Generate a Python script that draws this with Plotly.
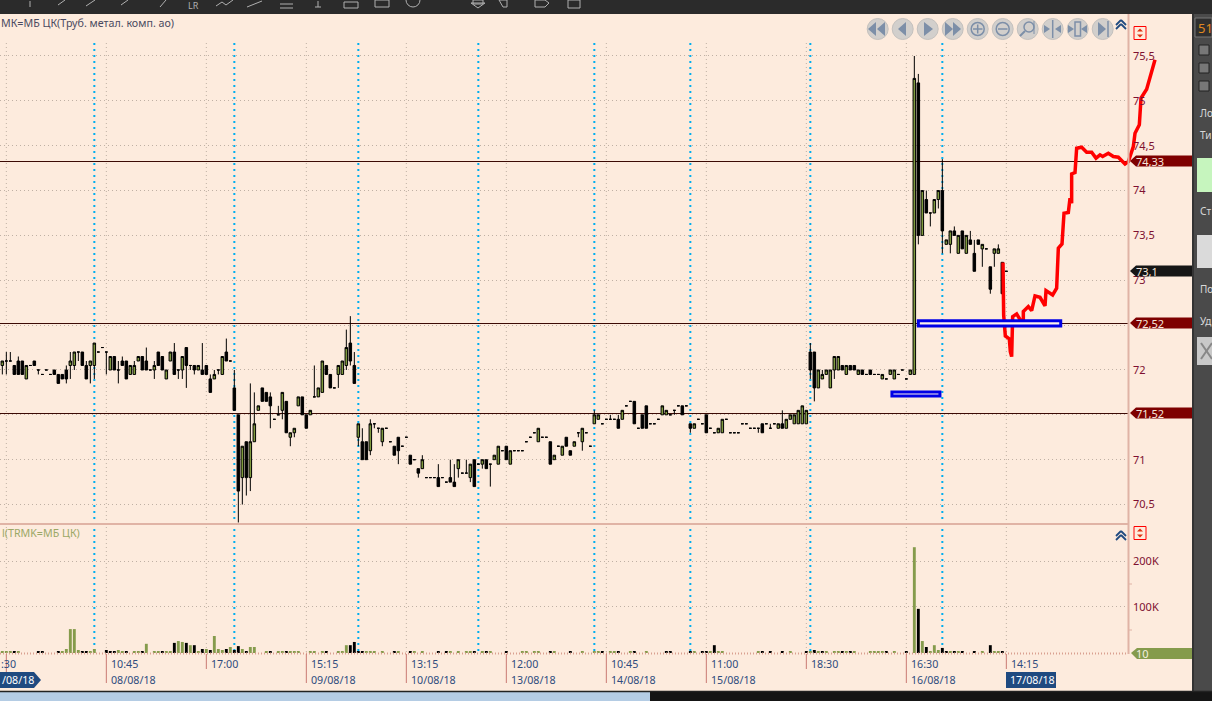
import plotly.graph_objects as go

# ---------- candle data (index = candle number) ----------
opens = [
72.05,72.10,72.10,72.05,72.10,72.10,71.90,72.05,72.10,72.00,71.95,72.00,71.95,72.00,71.95,71.95,72.00,72.05,72.05,72.20,
72.20,72.05,72.05,72.05,72.20,72.25,72.20,72.00,72.15,72.00,72.10,72.10,71.95,71.95,72.10,72.15,72.10,72.00,72.00,72.20,
72.15,71.90,72.10,72.20,72.00,72.00,72.25,72.05,72.05,72.00,72.00,72.05,71.90,71.90,72.00,71.95,72.20,72.10,71.80,71.50,
70.80,71.20,70.80,71.20,71.55,71.80,71.75,71.70,71.45,71.50,71.55,71.65,71.25,71.30,71.60,71.70,71.50,71.50,71.70,71.70,
71.75,72.05,71.95,71.80,71.95,71.95,72.05,72.30,72.05,71.25,71.20,71.20,71.10,71.40,71.35,71.20,71.35,71.20,71.15,71.25,
71.15,71.25,71.05,71.00,70.90,70.90,70.80,70.80,70.80,70.80,70.80,70.75,70.80,70.75,70.90,70.85,70.85,70.80,71.00,70.95,
70.95,71.00,70.95,71.00,70.95,71.10,71.15,70.95,71.10,71.10,71.10,71.20,71.25,71.30,71.20,71.25,71.25,71.20,71.00,71.15,
71.05,71.25,71.10,71.15,71.30,71.20,71.30,71.15,71.40,71.45,71.40,71.45,71.45,71.45,71.45,71.45,71.60,71.65,71.65,71.35,
71.50,71.60,71.40,71.40,71.45,71.50,71.50,71.50,71.55,71.60,71.60,71.60,71.40,71.35,71.45,71.40,71.50,71.35,71.30,71.30,
71.30,71.45,71.30,71.30,71.30,71.40,71.40,71.35,71.35,71.35,71.40,71.40,71.35,71.40,71.35,71.40,71.35,71.45,71.40,71.40,
71.40,71.40,72.20,72.20,71.80,71.90,71.95,71.80,72.00,72.00,72.05,71.95,72.05,72.05,71.95,72.00,71.95,72.00,71.95,71.95,
71.90,71.90,71.95,71.90,71.95,72.00,71.90,71.95,71.95,75.20,73.50,73.90,73.75,73.75,73.90,74.00,73.40,73.40,73.55,73.30,
73.55,73.30,73.45,73.30,73.45,73.35,73.35,73.15,73.30,73.30,73.20,73.10]
closes = [
72.10,72.10,72.10,71.95,71.95,71.95,72.05,72.05,72.05,72.00,71.95,72.00,71.95,71.95,71.85,71.90,71.90,72.10,72.20,72.20,
72.05,71.90,72.10,72.30,72.20,72.25,72.20,72.15,72.00,72.00,72.05,71.90,72.05,72.05,72.15,72.00,72.00,72.00,72.05,72.05,
72.00,72.00,72.20,71.95,72.00,72.15,72.05,72.05,72.00,72.05,71.95,71.95,71.75,71.95,72.00,72.15,72.10,72.10,71.55,70.65,
71.15,70.80,71.20,71.40,71.60,71.65,71.65,71.60,71.45,71.50,71.75,71.30,71.30,71.35,71.70,71.50,71.35,71.55,71.70,71.80,
72.10,71.95,71.80,71.80,72.05,72.10,72.25,72.10,71.85,71.40,71.00,71.00,71.40,71.40,71.35,71.35,71.35,71.20,71.05,71.10,
71.15,71.25,70.95,71.00,70.85,71.00,70.80,70.80,70.80,70.70,70.80,70.75,70.75,70.70,71.00,70.85,70.85,70.95,70.70,70.95,
71.00,70.90,70.95,71.05,71.15,71.10,71.00,71.10,71.10,71.10,71.10,71.20,71.25,71.30,71.35,71.25,71.25,70.95,71.05,71.15,
71.15,71.15,71.05,71.20,71.30,71.35,71.30,71.15,71.50,71.50,71.40,71.45,71.45,71.45,71.35,71.55,71.60,71.65,71.40,71.35,
71.35,71.35,71.40,71.40,71.45,71.60,71.55,71.50,71.55,71.60,71.50,71.60,71.35,71.40,71.45,71.40,71.30,71.35,71.30,71.35,
71.45,71.45,71.30,71.30,71.30,71.40,71.40,71.35,71.35,71.35,71.30,71.40,71.35,71.40,71.40,71.35,71.45,71.50,71.50,71.55,
71.60,71.55,72.00,71.80,72.00,71.95,72.00,72.00,72.15,72.15,72.00,72.05,72.00,72.00,72.00,71.95,71.95,71.95,71.95,71.95,
71.95,71.90,72.00,72.00,71.95,72.00,71.90,72.00,75.25,73.50,74.00,73.75,73.75,73.90,74.00,73.55,73.45,73.55,73.50,73.50,
73.35,73.50,73.40,73.10,73.40,73.40,73.35,72.90,73.35,73.35,72.85,73.10]
upper_wicks = {1:72.20,2:72.20,4:72.15,16:72.05,17:72.20,21:72.10,29:72.10,30:72.15,33:72.10,36:72.25,38:72.10,43:72.30,
50:72.30,52:71.95,53:72.00,56:72.35,58:72.00,62:71.85,63:71.75,67:71.75,69:71.60,78:72.05,86:72.45,87:72.60,88:72.20,
90:71.35,92:71.45,105:71.05,109:70.95,112:71.00,113:70.95,116:71.00,148:71.55,152:71.50,154:71.50,192:71.40,195:71.55,
202:72.30,205:72.00,228:75.50,229:75.30,231:74.00,235:74.35,238:73.60,242:73.55,243:73.45,249:73.40}
lower_wicks = {0:71.95,1:71.95,9:71.95,16:71.85,17:71.90,18:72.00,19:72.10,22:71.85,23:71.90,26:71.95,29:71.85,38:71.90,
44:71.90,45:71.90,46:71.80,47:72.00,48:71.95,54:71.95,59:70.30,60:70.50,61:70.60,62:70.65,67:71.35,70:71.45,72:71.15,
73:71.25,84:71.80,86:72.00,87:72.05,89:71.15,92:71.05,93:71.35,94:71.30,95:71.15,99:70.95,104:70.80,114:70.80,117:70.75,
120:70.90,122:70.70,144:71.25,145:71.10,168:71.50,172:71.30,189:71.30,202:71.90,203:71.65,208:71.90,229:73.40,232:73.60,
234:73.80,235:73.30,237:73.30,245:73.15,247:72.85,248:73.15}

# ---------- volume ----------
vol_up_index = [0,1,2,4,15,16,17,18,19,22,23,29,30,33,34,36,38,39,41,42,44,45,47,49,51,53,54,55,57,60,62,63,
66,69,70,72,73,74,77,78,80,84,85,86,91,92,93,95,99,103,105,112,114,116,117,120,122,
130,131,133,134,138,145,148,149,152,153,157,161,173,177,179,180,189,
197,202,204,206,208,209,211,213,217,218,219,220,223,228,230,232,233,234,237,239,245,248,249]
vol_up_value = [2200,2200,2200,2200,2200,8700,52000,52000,6500,2200,8700,6500,4300,2200,2200,20000,4300,2200,2200,4300,26000,24000,17000,2200,8700,37000,8700,6500,13000,8700,13000,13000,
2200,2200,2200,2200,2200,2200,2200,4300,2200,4300,2200,17000,4300,2200,2200,2200,2200,2200,2200,2200,2200,2200,2200,2200,2200,
2200,2200,2200,2200,2200,2200,2200,2200,2200,2200,2200,2200,2200,2200,2200,2200,2200,
2200,4300,2200,2200,4300,2200,2200,2200,2200,2200,2200,2200,2200,230000,26000,4300,17000,6500,2200,2200,2200,2200,2200]
vol_down_index = [3,9,10,14,20,21,26,27,28,31,35,40,43,46,48,50,52,56,58,59,61,
67,71,81,87,88,89,90,98,102,109,111,118,121,126,
137,142,150,154,158,166,167,172,175,176,178,190,192,
195,201,203,205,210,212,221,226,229,231,235,236,238,240,243,247,250]
vol_down_value = [2200,2200,2200,2200,2200,2200,6500,2200,4300,4300,4300,2200,22000,22000,17000,8700,6500,8700,6500,15000,4300,
4300,4300,4300,17000,24000,4300,4300,2200,2200,2200,2200,2200,2200,2200,
2200,2200,2200,2200,2200,2200,2200,2200,2200,2200,17000,2200,2200,
2200,2200,6500,2200,2200,2200,2200,2200,96000,13000,11000,2200,2200,2200,2200,17000,2200]

# ---------- hand-drawn red forecast line ----------
red_index = [250.17,250.33,250.33,250.75,251.75,252.0,252.33,252.58,253.58,255.25,255.25,256.5,257.33,258.17,259.42,260.67,260.92,262.58,263.58,264.0,
264.92,265.42,266.5,266.92,267.33,267.33,268.17,268.58,269.83,271.08,272.33,273.42,274.42,275.08,276.5,277.75,279.0,280.67,281.5,282.75,283.17,284.25,284.67,286.08,288.17]
red_price = [73.197,72.855,72.613,72.379,72.346,72.204,72.149,72.595,72.625,72.502,72.651,72.706,72.662,72.825,72.81,72.714,72.885,72.836,72.911,73.357,
73.405,73.747,73.755,73.914,73.859,74.186,74.2,74.472,74.483,74.427,74.427,74.361,74.398,74.379,74.416,74.379,74.372,74.297,74.323,74.491,74.639,74.732,75.03,75.13,75.457]

# ---------- levels, boxes, labels ----------
level_prices = [74.33, 72.52, 71.52]
level_labels = ["74,33", "72,52", "71,52"]
last_price = 73.1
last_label = "73,1"
price_ticks = [75.5,75,74.5,74,73.5,73,72.5,72,71.5,71,70.5]
price_tick_text = ["75,5","75","74,5","74","73,5","73","","72","","71","70,5"]
volume_ticks = [100000,200000]
volume_tick_text = ["100K","200K"]
volume_minor = [50000,150000]
box_a = (229.0, 264.6, 72.49, 72.55)
box_b = (222.4, 234.4, 71.71, 71.755)
session_index = [23,58,89,119,148,172,202,235]
tick_index = [1,26,51,76,101,126,151,176,201,226,251]
tick_times = [":30","10:45","17:00","15:15","13:15","12:00","10:45","11:00","18:30","16:30","14:15"]
tick_dates = ["","08/08/18","","09/08/18","10/08/18","13/08/18","14/08/18","15/08/18","","16/08/18",""]

title = "МК=МБ ЦК(Труб. метал. комп. ао)"
vol_title = "l(TRMK=МБ ЦК)"

# ---------- styles ----------
W, H = 1212, 701
BG = "#FDEBDD"; OLIVE = "#7F9A3E"; VOLOLIVE = "#859B4C"; AXIS = "#E0B3A5"; GRID = "#BFB0A4"
CYAN = "#00AEEF"; DARKRED = "#7E0000"; NAVY = "#1F4A80"; FONT = "Noto Sans"
PLOT_RIGHT = 1128; X0 = -0.583; X1 = (PLOT_RIGHT - 2.33) / 4; XMAX = (1192 - 2.33) / 4
YMIN, YMAX = 70.283, 75.968
VMIN, VMAX = -2174, 278261
def fx(p): return p / W
def fy(p): return 1 - p / H

highs = [upper_wicks.get(i, max(o, c)) for i, (o, c) in enumerate(zip(opens, closes))]
lows = [lower_wicks.get(i, min(o, c)) for i, (o, c) in enumerate(zip(opens, closes))]
index = list(range(len(opens)))

fig = go.Figure()
fig.add_trace(go.Candlestick(x=index, open=opens, high=highs, low=lows, close=closes, xaxis="x", yaxis="y",
    increasing=dict(fillcolor=OLIVE, line=dict(color="#000000", width=1)),
    decreasing=dict(fillcolor="#000000", line=dict(color="#000000", width=1)),
    whiskerwidth=0, showlegend=False, hoverinfo="skip"))
fig.add_trace(go.Bar(x=vol_up_index, y=vol_up_value, xaxis="x2", yaxis="y2", marker=dict(color=VOLOLIVE, line_width=0), width=0.72, showlegend=False))
fig.add_trace(go.Bar(x=vol_down_index, y=vol_down_value, xaxis="x2", yaxis="y2", marker=dict(color="#000000", line_width=0), width=0.72, showlegend=False))
fig.add_trace(go.Scatter(x=red_index, y=red_price, mode="lines", line=dict(color="#FF0000", width=3.5), cliponaxis=False, xaxis="x", yaxis="y", showlegend=False, hoverinfo="skip"))

shapes, ann = [], []
def rect(x0, y0, x1, y1, fill, line=None, lw=0, layer="above"):
    shapes.append(dict(type="rect", xref="paper", yref="paper", x0=fx(x0), x1=fx(x1), y0=fy(y0), y1=fy(y1), fillcolor=fill,
                       line=dict(color=line or fill, width=lw), layer=layer))
def seg(x0, y0, x1, y1, color, w=1, dash=None, layer="above"):
    shapes.append(dict(type="line", xref="paper", yref="paper", x0=fx(x0), x1=fx(x1), y0=fy(y0), y1=fy(y1),
                       line=dict(color=color, width=w, dash=dash), layer=layer))
def poly(pts, fill, line=None, lw=0):
    d = "M" + " L".join(f"{fx(a):.5f},{fy(b):.5f}" for a, b in pts) + " Z"
    shapes.append(dict(type="path", xref="paper", yref="paper", path=d, fillcolor=fill, line=dict(color=line or fill, width=lw)))
def circle(cx, cy, r, fill, line=None, lw=0):
    shapes.append(dict(type="circle", xref="paper", yref="paper", x0=fx(cx-r), x1=fx(cx+r), y0=fy(cy+r), y1=fy(cy-r), fillcolor=fill, line=dict(color=line or fill, width=lw)))
def text(x, y, s, color, size=10.7, anchor="left", bg=None):
    ann.append(dict(xref="paper", yref="paper", x=fx(x), y=fy(y), text=s, showarrow=False, xanchor=anchor, yanchor="middle",
                    font=dict(family=FONT, size=size, color=color), bgcolor=bg, borderpad=0))
def price_px(p): return 14 + (YMAX - p) / (YMAX - YMIN) * 510
def vol_px(v): return 525 + (VMAX - v) / (VMAX - VMIN) * 129

# horizontal grid (stops at the price axis)
for p in price_ticks:
    seg(0, int(price_px(p)) + 0.5, PLOT_RIGHT, int(price_px(p)) + 0.5, GRID, 1, "1px,3px", "below")
for v in volume_ticks:
    seg(0, int(vol_px(v)) + 0.5, PLOT_RIGHT, int(vol_px(v)) + 0.5, GRID, 1, "1px,3px", "below")
for v in volume_minor:
    seg(PLOT_RIGHT, vol_px(v), PLOT_RIGHT + 4, vol_px(v), AXIS, 1)
# vertical grid, session lines
for i in tick_index:
    shapes.append(dict(type="line", xref="x", yref="paper", x0=i, x1=i, y0=fy(43), y1=fy(654), line=dict(color=GRID, width=1, dash="1px,3px"), layer="below"))
for i in session_index:
    shapes.append(dict(type="line", xref="x", yref="paper", x0=i, x1=i, y0=fy(43), y1=fy(654), line=dict(color=CYAN, width=2, dash="2px,4px"), layer="below"))
# levels
for p in level_prices:
    seg(0, round(price_px(p)) + 0.5, PLOT_RIGHT, round(price_px(p)) + 0.5, "#3C0A04", 1, None, "below")
# boxes
for b in (box_a, box_b):
    shapes.append(dict(type="rect", xref="x", yref="y", x0=b[0], x1=b[1], y0=b[2], y1=b[3], fillcolor="#FDF3EA", line=dict(color="#0000E6", width=3)))
# axes lines
seg(1128.5, 14, 1128.5, 654, AXIS, 2)
seg(0, 524, 1128, 524, AXIS, 2)
seg(0, 653.5, 1128, 653.5, "#D9A090", 2, "1px,2px")
# x ticks and labels
for i, t, d in zip(tick_index, tick_times, tick_dates):
    long_tick = d != "" or t == ":30"
    px = 2.33 + 4 * i
    shapes.append(dict(type="line", xref="x", yref="paper", x0=i, x1=i, y0=fy(654), y1=fy(683 if long_tick else 669), line=dict(color="#C97A74", width=1)))
    text(px + 3.5 if t != ":30" else 0, 664, t, "#2E4C7E")
    if d:
        text(px + 3.5, 680, d, "#2E4C7E")
# date badges
poly([(0,672),(34,672),(41,680),(34,688),(0,688)], "#1F4A80")
text(1, 680, "/08/18", "#FFFFFF")
rect(1006, 672, 1056, 688, NAVY)
text(1009, 680, "17/08/18", "#FFFFFF")
# level badges
for y0, lab, col in [(161, level_labels[0], DARKRED), (323, level_labels[1], DARKRED), (413, level_labels[2], DARKRED), (271, last_label, "#161616")]:
    poly([(1130,y0),(1136,y0-5.5),(1192,y0-5.5),(1192,y0+5.5),(1136,y0+5.5)], col)
    text(1135, y0, lab, "#F5E6DC", 11)
poly([(1131,653),(1137,648),(1192,648),(1192,659),(1137,659)], VOLOLIVE)
text(1135, 653.5, "10", "#F5F0E0", 11)
# titles
text(0, 23, title, "#4A4A60")
text(1, 533, vol_title, "#9BA866")

# nav buttons
BTN = "#D2CFCC"; ICON = "#7D8FA8"
cxs = [877.7,902.7,927.7,952.7,977.7,1002.7,1027.7,1052.7,1077.7,1102.7]
for c in cxs:
    circle(c, 29, 10.5, BTN, "#C4C1BE", 1)
y = 29
poly([(868,y),(876,y-7),(876,y+7)], ICON); poly([(877,y),(885,y-7),(885,y+7)], ICON)
poly([(898,y),(906,y-7),(906,y+7)], ICON)
poly([(924,y-7),(924,y+7),(933,y)], ICON)
poly([(945,y-7),(945,y+7),(953,y)], ICON); poly([(953,y-7),(953,y+7),(961,y)], ICON)
circle(977.7, 29, 6.5, "rgba(0,0,0,0)", ICON, 1.5); seg(973,29,982.5,29,ICON,1.5); seg(977.7,24.5,977.7,33.5,ICON,1.5)
circle(1002.7, 29, 6.5, "rgba(0,0,0,0)", ICON, 1.5); seg(998,29,1007.5,29,ICON,1.5)
circle(1029, 27, 5, "rgba(0,0,0,0)", ICON, 1.5); seg(1025,31,1020,36,ICON,2); seg(1034,21,1034,34,ICON,1)
seg(1052.7,20,1052.7,38,ICON,1.5); poly([(1044,y-4),(1044,y+4),(1050,y)], ICON); poly([(1061,y-4),(1061,y+4),(1055,y)], ICON)
rect(1075,22,1080.5,36,"rgba(0,0,0,0)",ICON,1.5); poly([(1068,y-4),(1068,y+4),(1074,y)], ICON); poly([(1087,y-4),(1087,y+4),(1081,y)], ICON)
poly([(1098,y-7),(1098,y+7),(1106,y)], ICON); seg(1108,21,1108,37,ICON,1.5)
# chevrons and red boxes
for cy in (25, 536):
    for d in (0, 4):
        seg(1116,cy+3+d-3,1121,cy-2+d-3,NAVY,1.8); seg(1121,cy-2+d-3,1126,cy+3+d-3,NAVY,1.8)
for y0 in (26.5, 526.5):
    rect(1134,y0,1146,y0+13,"rgba(0,0,0,0)","#FF0000",1)
    poly([(1140,y0+2),(1137,y0+5),(1143,y0+5)], "#E03010")
    poly([(1140,y0+11),(1137,y0+8),(1143,y0+8)], "#E03010")

# frame: top bar, right panel, bottom
rect(0,0,W,14,"#2B2B2B")
rect(1192,14,W,701,"#4A4A4A")
rect(1192,14,1194,701,"#333333")
rect(0,691,W,701,"#B4CCE4")
rect(650,691,W,701,"#151515")
seg(0,691.5,W,691.5,"#222222",1.5)
# toolbar icons
TB = "#B0B0B0"
for a,b,c,d in [(30,1,30,7),(58,5,65,0),(86,6,95,0),(121,5,128,0),(160,7,166,0),(216,6,222,2),(222,2,226,5),(226,5,233,0),(247,7,262,1),(280,4,293,4),(280,8,293,8),(318,1,318,7),(315,7,321,7)]:
    seg(a,b,c,d,TB,1)
text(187, 6, "LR", TB, 9)
rect(344,2,358,8,"rgba(0,0,0,0)",TB,1)
rect(375,0,389,7,"rgba(0,0,0,0)",TB,1)
circle(413, 0, 7, "rgba(0,0,0,0)", TB, 1)
rect(473,0,483,4,"rgba(0,0,0,0)",TB,1); poly([(471,3),(485,3),(478,8)], "rgba(0,0,0,0)", TB, 1)
poly([(499,0),(507,0),(507,7),(503,7)], "rgba(0,0,0,0)", TB, 1)
poly([(535,0),(545,0),(549,3),(545,7),(535,7)], "rgba(0,0,0,0)", TB, 1)
rect(568,0,580,8,"rgba(0,0,0,0)",TB,1)
# right panel
rect(1195,18,W,37,"#2F2F2F","#777777",1)
text(1197, 28, "51", "#E08A20", 13)
for yy in (50,68,86):
    rect(1199,yy-5,1209,yy+5,"#777777","#222222",1)
for yy, s in [(113,"Ло"),(135,"Ти"),(211,"Ст"),(289,"По"),(321,"Уд")]:
    text(1199, yy, s, "#D8D8D8", 10)
rect(1197,158,W,192,"#C6F5BE")
rect(1197,235,W,268,"#DADADA")
rect(1197,337,W,365,"#C9C9C9")
seg(1201,343,1212,359,"#888888",2); seg(1201,359,1212,343,"#888888",2)

xcommon = dict(range=[X0, XMAX], domain=[0, 1192/W], showgrid=False, zeroline=False, showticklabels=False, showline=False, ticks="")
ycommon = dict(side="right", anchor="free", position=(PLOT_RIGHT + 2)/W, showgrid=False, zeroline=False, showline=False, ticks="",
               ticklabelstandoff=2, tickfont=dict(family=FONT, size=11, color="#7E1030"))
fig.update_layout(
    width=W, height=H, margin=dict(l=0, r=0, t=0, b=0), paper_bgcolor=BG, plot_bgcolor=BG, showlegend=False, barmode="overlay",
    boxgap=0.1,
    xaxis=dict(**xcommon, rangeslider=dict(visible=False)),
    xaxis2=dict(**xcommon),
    yaxis=dict(**ycommon, domain=[fy(524), fy(14)], range=[YMIN, YMAX], tickvals=price_ticks, ticktext=price_tick_text),
    yaxis2=dict(**ycommon, domain=[fy(654), fy(525)], range=[VMIN, VMAX], tickvals=volume_ticks, ticktext=volume_tick_text),
    shapes=shapes, annotations=ann, hovermode=False,
)
fig.update_xaxes(anchor="y", selector=dict(domain=None))
fig.layout.xaxis.anchor = "y"
fig.layout.xaxis2.anchor = "y2"
fig.write_html("out.html", config=dict(displayModeBar=False),
               post_script="document.body.style.margin='0';document.body.style.overflow='hidden';")
